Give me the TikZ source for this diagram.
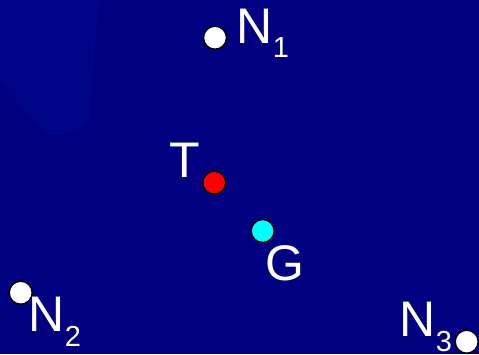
\documentclass[tikz,border=0pt]{standalone}
\usepackage{fontspec}
\setmainfont{Liberation Sans}
\definecolor{bgnavy}{RGB}{0,0,128}
\definecolor{bglight}{RGB}{0,5,135}
\definecolor{ptcyan}{RGB}{0,255,255}
\newcommand{\lblsub}[1]{\raisebox{-14.5pt}{\fontsize{29}{29}\selectfont #1}}
\begin{document}
\begin{tikzpicture}[x=1pt,y=-1pt,
  pt/.style={circle,draw=black,line width=1.4pt,minimum size=23pt,inner sep=0pt},
  lbl/.style={anchor=base west,inner sep=0pt,text=white,font=\fontsize{50}{50}\selectfont}]
\fill[bgnavy] (0,0) rectangle (479,354);
\fill[bglight] (0,0) -- (100,0) .. controls (94,40) and (92,90) .. (90,120) .. controls (75,135) and (55,138) .. (47,133) .. controls (30,118) and (15,98) .. (0,83) -- cycle;
\useasboundingbox (0,0) rectangle (479,354);
% points
\node[pt,fill=white] (n1) at (215,37.7) {};
\node[pt,fill=red] (t) at (214.3,182.7) {};
\node[pt,fill=ptcyan] (g) at (262.7,231) {};
\node[pt,fill=white] (n2) at (20.7,292.7) {};
\node[pt,fill=white] (n3) at (466.7,341.7) {};
% labels
\node[lbl] (ln1) at (236.5,43.3) {N\lblsub{1}};
\node[lbl] (lt) at (169,177) {T};
\node[lbl] (lg) at (265.5,280) {G};
\node[lbl] (ln2) at (28.5,331.7) {N\lblsub{2}};
\node[lbl] (ln3) at (399.5,336.7) {N\lblsub{3}};
\end{tikzpicture}
\end{document}
